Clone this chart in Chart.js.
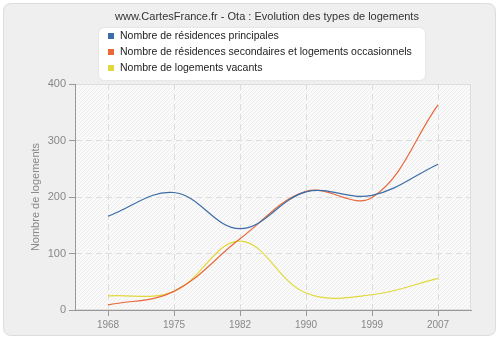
<!DOCTYPE html>
<html>
<head>
<meta charset="utf-8">
<script src="https://cdn.jsdelivr.net/npm/chart.js@4.4.1/dist/chart.umd.min.js"></script>
<style>
  html, body { margin: 0; padding: 0; background: #fff; }
  #zone { width: 500px; height: 340px; }
</style>
</head>
<body>
<div id="zone"><canvas id="graf" width="500" height="340"></canvas></div>
<script>
// données
const annees = ["1968", "1975", "1982", "1990", "1999", "2007"];
const principales = [166, 208, 144, 209, 203, 258];
const secondaires = [9, 33, 126, 210, 199, 363];
const vacants = [25, 33, 122, 30, 27, 56];
const ticksY = [0, 100, 200, 300, 400];

const titre = "www.CartesFrance.fr - Ota : Evolution des types de logements";
const libelles = [
    "Nombre de résidences principales",
    "Nombre de résidences secondaires et logements occasionnels",
    "Nombre de logements vacants"
];
const couleurs = ["#3d6da8", "#e8683a", "#e3d83a"];
const police = "'Liberation Sans', Arial, sans-serif";

function rectArrondi(ctx, x, y, w, h, r) {
    ctx.beginPath();
    ctx.moveTo(x + r, y);
    ctx.lineTo(x + w - r, y);
    ctx.quadraticCurveTo(x + w, y, x + w, y + r);
    ctx.lineTo(x + w, y + h - r);
    ctx.quadraticCurveTo(x + w, y + h, x + w - r, y + h);
    ctx.lineTo(x + r, y + h);
    ctx.quadraticCurveTo(x, y + h, x, y + h - r);
    ctx.lineTo(x, y + r);
    ctx.quadraticCurveTo(x, y, x + r, y);
    ctx.closePath();
}

// fond gris arrondi + zone hachurée
const fond = {
    id: "fond",
    beforeDraw(chart) {
        const ctx = chart.ctx;
        const a = chart.chartArea;
        ctx.save();
        ctx.fillStyle = "#ffffff";
        ctx.fillRect(0, 0, chart.width, chart.height);
        rectArrondi(ctx, 3.5, 3.5, 492, 332, 8);
        ctx.fillStyle = "#efefef";
        ctx.fill();
        ctx.strokeStyle = "#dcdcdc";
        ctx.lineWidth = 1;
        ctx.stroke();

        ctx.fillStyle = "#fafafa";
        ctx.fillRect(a.left, a.top, a.right - a.left, a.bottom - a.top);
        ctx.beginPath();
        ctx.rect(a.left, a.top, a.right - a.left, a.bottom - a.top);
        ctx.clip();
        ctx.strokeStyle = "#ececec";
        ctx.beginPath();
        const h = a.bottom - a.top;
        for (let x = a.left - h; x < a.right; x += 4) {
            ctx.moveTo(x, a.bottom);
            ctx.lineTo(x + h, a.top);
        }
        ctx.stroke();
        ctx.restore();

        ctx.save();
        ctx.strokeStyle = "#dedede";
        ctx.strokeRect(a.left + 0.5, a.top + 0.5, a.right - a.left - 1, a.bottom - a.top - 1);
        ctx.restore();
    },
    afterDraw(chart) {
        const ctx = chart.ctx;
        ctx.save();
        ctx.font = "11px " + police;
        ctx.fillStyle = "#333";
        ctx.textAlign = "center";
        ctx.textBaseline = "middle";
        ctx.fillText(titre, 267, 17);

        // boîte de légende
        ctx.shadowColor = "rgba(0,0,0,0.08)";
        ctx.shadowBlur = 3;
        rectArrondi(ctx, 99, 28, 326, 52, 6);
        ctx.fillStyle = "#ffffff";
        ctx.fill();
        ctx.shadowColor = "transparent";

        ctx.font = "10.5px " + police;
        ctx.textAlign = "left";
        libelles.forEach((txt, i) => {
            const y = 36 + i * 16;
            ctx.fillStyle = couleurs[i];
            ctx.fillRect(108, y - 3, 6, 6);
            ctx.fillStyle = "#222";
            ctx.fillText(txt, 120, y);
        });
        ctx.restore();
    }
};

const series = [principales, secondaires, vacants];

new Chart(document.getElementById("graf"), {
    type: "line",
    data: {
        labels: annees,
        datasets: series.map((valeurs, i) => ({
            label: libelles[i],
            data: valeurs,
            borderColor: couleurs[i],
            backgroundColor: couleurs[i],
            borderWidth: 1.2,
            pointRadius: 0,
            tension: 0.38,
            fill: false
        }))
    },
    options: {
        responsive: false,
        animation: false,
        layout: { padding: { left: 26, top: 84, right: 29, bottom: 0 } },
        plugins: {
            legend: { display: false },
            title: { display: false },
            tooltip: { enabled: false }
        },
        scales: {
            x: {
                offset: true,
                grid: { color: "#dddddd", tickColor: "#999", tickLength: 6, offset: false },
                border: { color: "#999", width: 1, dash: [6, 4] },
                ticks: { color: "#888", font: { family: police, size: 10 }, padding: 3 },
                afterFit(s) { s.height = 30; }
            },
            y: {
                min: 0,
                max: 400,
                afterBuildTicks(s) { s.ticks = ticksY.map(v => ({ value: v })); },
                grid: {
                    color: c => (c.tick && c.tick.value === 0 ? "transparent" : "#dddddd"),
                    tickColor: "#999",
                    tickLength: 6
                },
                border: { color: "#999", width: 1, dash: [6, 4] },
                ticks: { color: "#888", font: { family: police, size: 11 }, padding: 3 },
                title: {
                    display: true,
                    text: "Nombre de logements",
                    color: "#888",
                    font: { family: police, size: 11 },
                    padding: 3
                },
                afterFit(s) { s.width = 49; }
            }
        }
    },
    plugins: [fond]
});
</script>
</body>
</html>
